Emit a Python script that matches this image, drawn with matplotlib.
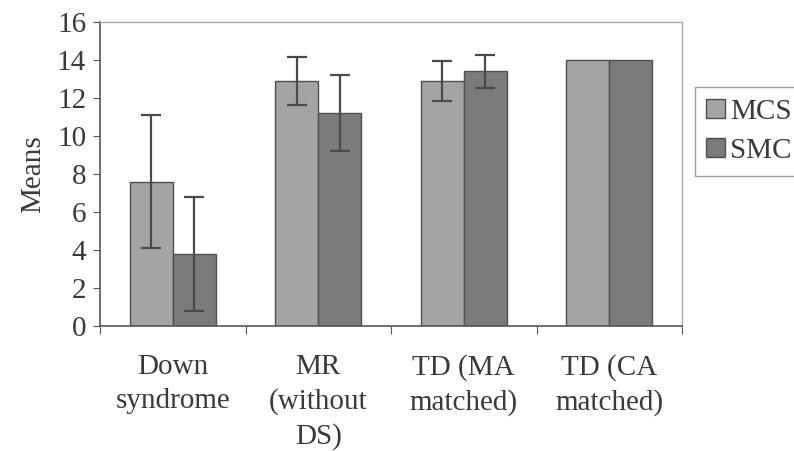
import numpy as np
import matplotlib
matplotlib.use("Agg")
import matplotlib.pyplot as plt

groups = ["Down\nsyndrome", "MR\n(without\nDS)", "TD (MA\nmatched)", "TD (CA\nmatched)"]
mcs_means = [7.6, 12.9, 12.9, 14.0]
mcs_sd = [3.5, 1.25, 1.05, 0.0]
smc_means = [3.8, 11.2, 13.4, 14.0]
smc_sd = [3.0, 2.0, 0.85, 0.0]

plt.rcParams["font.family"] = ["Liberation Serif", "DejaVu Serif"]
plt.rcParams["text.color"] = "#3a3a3a"

fig = plt.figure(figsize=(7.94, 4.51), dpi=100)
ax = fig.add_axes([0.126, 0.277, 0.733, 0.674])

x = np.arange(len(groups))
w = 0.295
edge = "#505050"
for i in range(len(groups)):
    ax.bar(x[i] - w / 2, mcs_means[i], w, color="#a4a4a4", edgecolor=edge, linewidth=1.0)
    ax.bar(x[i] + w / 2, smc_means[i], w, color="#7b7b7b", edgecolor=edge, linewidth=1.0)
    if mcs_sd[i] > 0:
        ax.errorbar(x[i] - w / 2, mcs_means[i], yerr=mcs_sd[i], fmt="none",
                    ecolor="#4a4a4a", elinewidth=1.6, capsize=7, capthick=1.6)
    if smc_sd[i] > 0:
        ax.errorbar(x[i] + w / 2, smc_means[i], yerr=smc_sd[i], fmt="none",
                    ecolor="#4a4a4a", elinewidth=1.6, capsize=7, capthick=1.6)

ax.set_xlim(-0.5, len(groups) - 0.5)
ax.set_ylim(0, 16)
ax.set_yticks(range(0, 17, 2))
ax.set_xticks(np.arange(-0.5, len(groups), 1.0))
ax.set_xticklabels([])
ax.set_xticks(x, minor=True)
ax.set_xticklabels(groups, minor=True, fontsize=21, color="#3a3a3a", linespacing=1.4)
ax.tick_params(axis="x", which="minor", length=0, pad=20)
ax.tick_params(axis="x", which="major", length=6, color="#555555", direction="out")
ax.tick_params(axis="y", labelsize=21, length=5, color="#555555", labelcolor="#3a3a3a", pad=5)

for s in ["top", "right"]:
    ax.spines[s].set_color("#aaaaaa")
    ax.spines[s].set_linewidth(1.0)
for s in ["left", "bottom"]:
    ax.spines[s].set_color("#555555")
    ax.spines[s].set_linewidth(1.2)

ax.set_ylabel("Means", fontsize=21, color="#3a3a3a", labelpad=8)

handles = [plt.Rectangle((0, 0), 1, 1, facecolor="#a4a4a4", edgecolor=edge),
           plt.Rectangle((0, 0), 1, 1, facecolor="#7b7b7b", edgecolor=edge)]
fig.legend(handles, ["MCS", "SMC"], loc="upper left", bbox_to_anchor=(0.875, 0.807),
           fontsize=21, frameon=True, fancybox=False, edgecolor="#888888",
           handlelength=0.65, handleheight=0.65, handletextpad=0.15,
           borderpad=0.4, labelspacing=0.45, borderaxespad=0)

fig.savefig("out.png", dpi=100)
